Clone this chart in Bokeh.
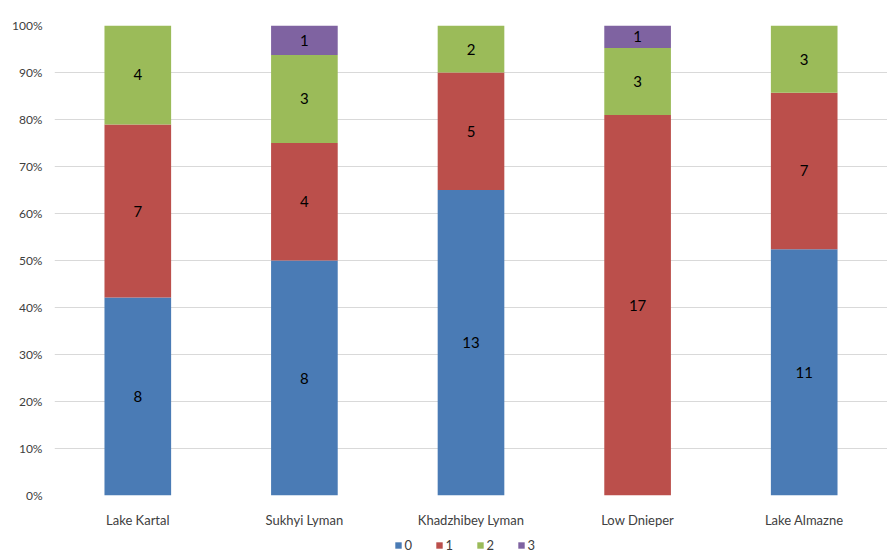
from bokeh.plotting import figure
from bokeh.layouts import column
from bokeh.models import ColumnDataSource, Legend, LegendItem, NumeralTickFormatter, FixedTicker
from bokeh.core.properties import value
from bokeh.embed import file_html
from bokeh.resources import INLINE

sites = ["Lake Kartal", "Sukhyi Lyman", "Khadzhibey Lyman", "Low Dnieper", "Lake Almazne"]
series = ["0", "1", "2", "3"]
c0 = [8, 8, 13, 0, 11]
c1 = [7, 4, 5, 17, 7]
c2 = [4, 3, 2, 3, 3]
c3 = [0, 1, 0, 1, 0]
colors = ["#4a7bb5", "#bb4f4b", "#9bbb59", "#7f63a1"]
yticks = [0.0, 0.1, 0.2, 0.3, 0.4, 0.5, 0.6, 0.7, 0.8, 0.9, 1.0]

counts = [c0, c1, c2, c3]
totals = [sum(v) for v in zip(*counts)]
data = {"site": sites}
for name, cnt in zip(series, counts):
    data[name] = [c / t for c, t in zip(cnt, totals)]
src = ColumnDataSource(data)

FONT = "Lato"
p = figure(x_range=sites, y_range=(0, 1), width=887, height=530,
           output_backend="svg", toolbar_location=None,
           min_border_left=54, min_border_right=0, min_border_top=25, min_border_bottom=35)
p.outline_line_color = None
p.background_fill_color = "white"
p.border_fill_color = "white"

rs = p.vbar_stack(series, x="site", width=0.4, color=colors, line_color=None, source=src)

# labels
lx, ly, lt = [], [], []
for i, s in enumerate(sites):
    base = 0.0
    for cnt in counts:
        frac = cnt[i] / totals[i]
        if cnt[i] > 0:
            lx.append(s)
            ly.append(base + frac / 2)
            lt.append(str(cnt[i]))
        base += frac
p.text(x=lx, y=ly, text=lt, text_align="center", text_baseline="middle",
       text_font=value(FONT), text_font_size="15px", text_color="#000000")

p.xgrid.grid_line_color = None
p.ygrid.grid_line_color = "#d9d9d9"
p.ygrid.ticker = FixedTicker(ticks=yticks)
p.yaxis.ticker = FixedTicker(ticks=yticks)
p.yaxis.formatter = NumeralTickFormatter(format="0%")
for ax in (p.xaxis, p.yaxis):
    ax.axis_line_color = None
    ax.major_tick_line_color = None
    ax.minor_tick_line_color = None
    ax.major_label_text_font = FONT
    ax.major_label_text_color = "#404040"
p.yaxis.major_label_text_font_size = "12px"
p.yaxis.major_label_standoff = 6
p.xaxis.major_label_text_font_size = "13px"
p.xaxis.major_label_standoff = 10

# legend in a thin strip figure below
lg = figure(width=887, height=29, output_backend="svg", toolbar_location=None,
            min_border=0, x_range=(0, 1), y_range=(0, 1))
lg.outline_line_color = None
lg.axis.visible = False
lg.grid.visible = False
lrs = [lg.rect(x=[5], y=[5], width=0.1, height=0.1, color=c, line_color=None) for c in colors]
legend = Legend(items=[LegendItem(label=n, renderers=[r]) for n, r in zip(series, lrs)],
                orientation="horizontal", location="center",
                label_text_font=FONT, label_text_font_size="13px", label_text_color="#404040",
                glyph_width=8, glyph_height=8, label_standoff=3, spacing=10,
                padding=2, margin=0, border_line_color=None, background_fill_alpha=0)
lg.add_layout(legend, "center")

layout = column(p, lg, spacing=0)
open("out.html", "w").write(file_html(layout, INLINE))
